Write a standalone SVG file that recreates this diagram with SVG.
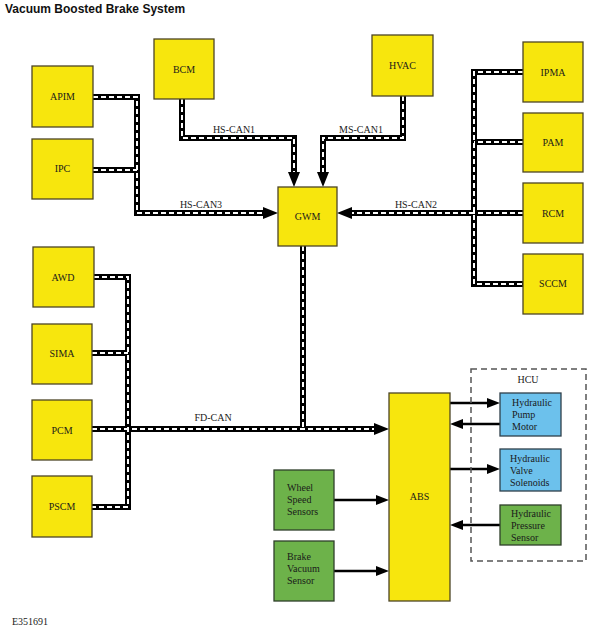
<svg xmlns="http://www.w3.org/2000/svg" width="595" height="632" viewBox="0 0 595 632">
<defs>
<style>
.t{font-family:"Liberation Serif","Times New Roman",serif;font-size:10px;fill:#1a1a1a}
.c{text-anchor:middle}
.y{fill:#f7e60d;stroke:#4d4526;stroke-width:1.3}
.g{fill:#6db24a;stroke:#2f3f2a;stroke-width:1.3}
.b{fill:#6cc1ec;stroke:#2f3f4a;stroke-width:1.3}
.bk{fill:none;stroke:#000;stroke-width:6}
.wd{fill:none;stroke:#fff;stroke-width:2;stroke-dasharray:5 3}
.th{fill:none;stroke:#000;stroke-width:2.5}
</style>
<marker id="ah" markerUnits="userSpaceOnUse" markerWidth="15" markerHeight="12" refX="0" refY="6" orient="auto"><path d="M0,0 L15,6 L0,12 z" fill="#000"/></marker>
<marker id="as" markerUnits="userSpaceOnUse" markerWidth="13" markerHeight="10" refX="0" refY="5" orient="auto"><path d="M0,0 L13,5 L0,10 z" fill="#000"/></marker>
</defs>
<rect width="595" height="632" fill="#fff"/>
<text x="5" y="13" style="font-family:'Liberation Sans',Arial,sans-serif;font-size:12px;font-weight:bold;fill:#111">Vacuum Boosted Brake System</text>

<g id="connectors">
<!-- black layers -->
<path class="bk" d="M93,97 H137 V213 H263" marker-end="url(#ah)"/>
<path class="bk" d="M93,170 H137"/>
<path class="bk" d="M182,99 V138 H294 V172" marker-end="url(#ah)"/>
<path class="bk" d="M403,96 V138 H323 V172" marker-end="url(#ah)"/>
<path class="bk" d="M523,72 H474 V284 H523"/>
<path class="bk" d="M523,142 H474"/>
<path class="bk" d="M523,213 H474"/>
<path class="bk" d="M474,213 H352" marker-end="url(#ah)"/>
<path class="bk" d="M303,246 V429"/>
<path class="bk" d="M94,277 H128 V507 H92"/>
<path class="bk" d="M92,353 H128"/>
<path class="bk" d="M92,429 H374" marker-end="url(#ah)"/>
<!-- white dashes -->
<path class="wd" d="M93,97 H137 V213 H263"/>
<path class="wd" d="M93,170 H137"/>
<path class="wd" d="M182,99 V138 H294 V172"/>
<path class="wd" d="M403,96 V138 H323 V172"/>
<path class="wd" d="M523,72 H474 V284 H523"/>
<path class="wd" d="M523,142 H474"/>
<path class="wd" d="M523,213 H474"/>
<path class="wd" d="M474,213 H352"/>
<path class="wd" d="M303,246 V429"/>
<path class="wd" d="M94,277 H128 V507 H92"/>
<path class="wd" d="M92,353 H128"/>
<path class="wd" d="M92,429 H374"/>
<!-- thin arrows -->
<path class="th" d="M450,403 H487" marker-end="url(#as)"/>
<path class="th" d="M500,424 H463" marker-end="url(#as)"/>
<path class="th" d="M450,469 H487" marker-end="url(#as)"/>
<path class="th" d="M500,525 H463" marker-end="url(#as)"/>
<path class="th" d="M334,500 H376" marker-end="url(#as)"/>
<path class="th" d="M334,571 H376" marker-end="url(#as)"/>
<!-- labels -->
<text class="t c" x="234" y="133">HS-CAN1</text>
<text class="t c" x="361" y="133">MS-CAN1</text>
<text class="t c" x="201" y="208">HS-CAN3</text>
<text class="t c" x="416" y="208">HS-CAN2</text>
<text class="t c" x="213" y="421">FD-CAN</text>
</g>

<g id="HCU">
<rect x="471" y="369" width="115" height="192" fill="none" stroke="#555" stroke-width="1.5" stroke-dasharray="6 4"/>
<text class="t c" x="528" y="383">HCU</text>
</g>
<g id="APIM"><rect class="y" x="32" y="66" width="61" height="61"/><text class="t c" x="62.5" y="100">APIM</text></g>
<g id="IPC"><rect class="y" x="32" y="139" width="61" height="60"/><text class="t c" x="62.5" y="172">IPC</text></g>
<g id="BCM"><rect class="y" x="154" y="39" width="60" height="60"/><text class="t c" x="184" y="73">BCM</text></g>
<g id="HVAC"><rect class="y" x="372" y="35" width="61" height="61"/><text class="t c" x="402.5" y="69">HVAC</text></g>
<g id="IPMA"><rect class="y" x="523" y="42" width="60" height="60"/><text class="t c" x="553" y="76">IPMA</text></g>
<g id="PAM"><rect class="y" x="523" y="113" width="60" height="59"/><text class="t c" x="553" y="146">PAM</text></g>
<g id="RCM"><rect class="y" x="523" y="183" width="60" height="60"/><text class="t c" x="553" y="217">RCM</text></g>
<g id="SCCM"><rect class="y" x="523" y="254" width="60" height="60"/><text class="t c" x="553" y="287">SCCM</text></g>
<g id="GWM"><rect class="y" x="278" y="187" width="59" height="59"/><text class="t c" x="307.5" y="220">GWM</text></g>
<g id="AWD"><rect class="y" x="33" y="247" width="61" height="60"/><text class="t c" x="63" y="281">AWD</text></g>
<g id="SIMA"><rect class="y" x="32" y="324" width="60" height="60"/><text class="t c" x="62" y="357">SIMA</text></g>
<g id="PCM"><rect class="y" x="32" y="400" width="60" height="60"/><text class="t c" x="62" y="434">PCM</text></g>
<g id="PSCM"><rect class="y" x="32" y="476" width="60" height="61"/><text class="t c" x="62" y="510">PSCM</text></g>
<g id="ABS"><rect class="y" x="389" y="393" width="61" height="208"/><text class="t c" x="419.5" y="500">ABS</text></g>
<g id="WheelSpeedSensors"><rect class="g" x="274" y="470" width="60" height="60"/><text class="t" x="287" y="491">Wheel</text><text class="t" x="287" y="503">Speed</text><text class="t" x="287" y="515">Sensors</text></g>
<g id="BrakeVacuumSensor"><rect class="g" x="274" y="541" width="60" height="60"/><text class="t" x="287" y="560">Brake</text><text class="t" x="287" y="572">Vacuum</text><text class="t" x="287" y="584">Sensor</text></g>
<g id="HydraulicPumpMotor"><rect class="b" x="500" y="393" width="61" height="43"/><text class="t" x="512" y="406">Hydraulic</text><text class="t" x="512" y="418">Pump</text><text class="t" x="512" y="430">Motor</text></g>
<g id="HydraulicValveSolenoids"><rect class="b" x="500" y="449" width="61" height="42"/><text class="t" x="510" y="462">Hydraulic</text><text class="t" x="510" y="474">Valve</text><text class="t" x="510" y="486">Solenoids</text></g>
<g id="HydraulicPressureSensor"><rect class="g" x="500" y="505" width="61" height="40"/><text class="t" x="511" y="517">Hydraulic</text><text class="t" x="511" y="529">Pressure</text><text class="t" x="511" y="541">Sensor</text></g>
<text class="t" x="12" y="625">E351691</text>
</svg>
